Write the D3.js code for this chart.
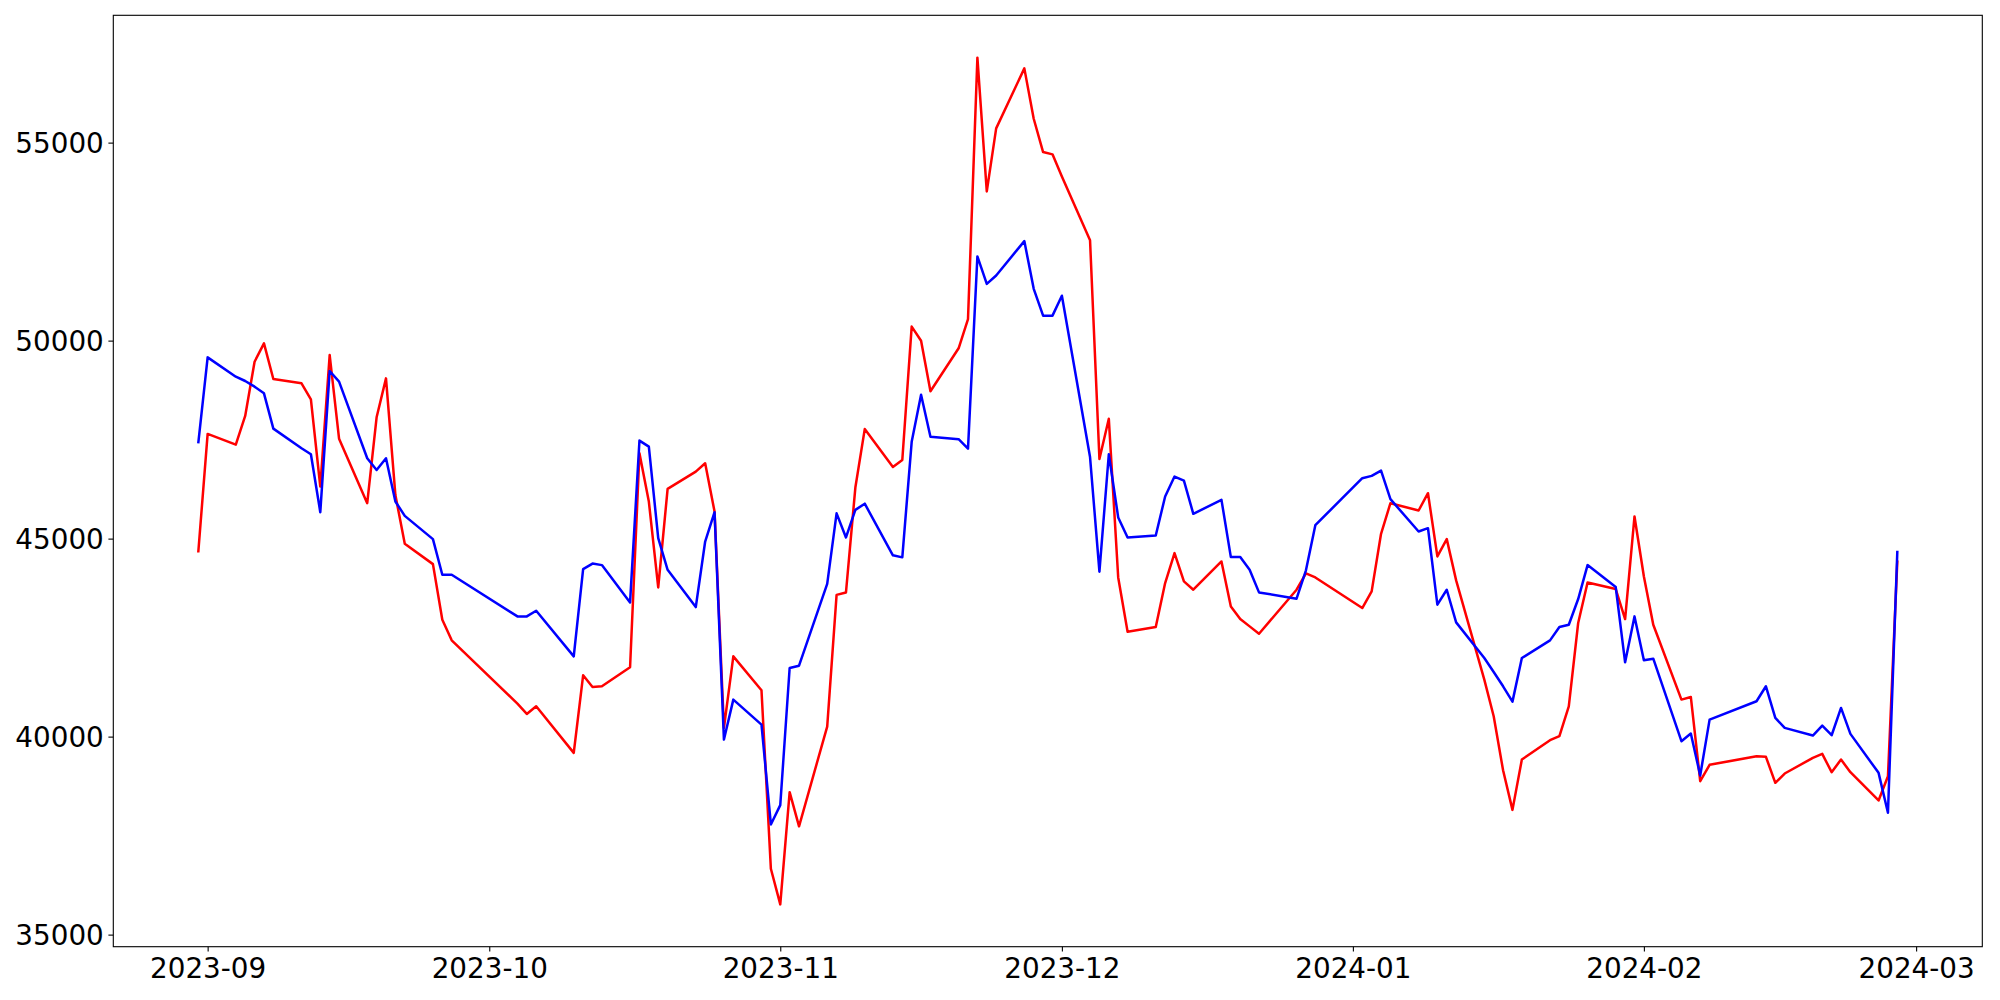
<!DOCTYPE html>
<html>
<head>
<meta charset="utf-8">
<script src="https://cdn.jsdelivr.net/npm/d3@7"></script>
<style>
  html, body { margin: 0; padding: 0; background: #fff; }
  svg { display: block; }
  text { font-family: "DejaVu Sans", sans-serif; fill: #000; }
</style>
</head>
<body>
<svg id="chart" width="2000" height="1000"></svg>
<script>
const dates = [
  "2023-08-31",
  "2023-09-01","2023-09-04","2023-09-05","2023-09-06","2023-09-07","2023-09-08",
  "2023-09-11","2023-09-12","2023-09-13","2023-09-14","2023-09-15",
  "2023-09-18","2023-09-19","2023-09-20","2023-09-21","2023-09-22",
  "2023-09-25","2023-09-26","2023-09-27",
  "2023-10-04","2023-10-05","2023-10-06","2023-10-10","2023-10-11","2023-10-12","2023-10-13",
  "2023-10-16","2023-10-17","2023-10-18","2023-10-19","2023-10-20",
  "2023-10-23","2023-10-24","2023-10-25","2023-10-26","2023-10-27",
  "2023-10-30","2023-10-31",
  "2023-11-01","2023-11-02","2023-11-03","2023-11-06","2023-11-07","2023-11-08","2023-11-09","2023-11-10",
  "2023-11-13","2023-11-14","2023-11-15","2023-11-16","2023-11-17",
  "2023-11-20","2023-11-21","2023-11-22","2023-11-23","2023-11-24",
  "2023-11-27","2023-11-28","2023-11-29","2023-11-30",
  "2023-12-01","2023-12-04","2023-12-05","2023-12-06","2023-12-07","2023-12-08",
  "2023-12-11","2023-12-12","2023-12-13","2023-12-14","2023-12-15",
  "2023-12-18","2023-12-19","2023-12-20","2023-12-21","2023-12-22",
  "2023-12-26","2023-12-27","2023-12-28",
  "2024-01-02","2024-01-03","2024-01-04","2024-01-05",
  "2024-01-08","2024-01-09","2024-01-10","2024-01-11","2024-01-12",
  "2024-01-15","2024-01-16","2024-01-17","2024-01-18","2024-01-19",
  "2024-01-22","2024-01-23","2024-01-24","2024-01-25","2024-01-26",
  "2024-01-29","2024-01-30","2024-01-31",
  "2024-02-01","2024-02-02","2024-02-05","2024-02-06","2024-02-07","2024-02-08",
  "2024-02-13","2024-02-14","2024-02-15","2024-02-16",
  "2024-02-19","2024-02-20","2024-02-21","2024-02-22","2024-02-23",
  "2024-02-26","2024-02-27","2024-02-28"
];

const redValues = [
  44650,
  47643,47374,48097,49467,49930,49030,
  48921,48517,46315,49635,47525,
  45894,48063,49047,46100,44869,
  44356,42952,42431,
  40833,40573,40766,39589,41548,41254,41270,
  41750,47155,45936,43767,46256,
  46693,46903,45684,40220,42027,
  41170,36663,
  35764,38597,37735,40254,43580,43641,46290,47766,
  46811,46985,50354,49998,48721,
  49807,50545,57146,53768,55360,
  56875,55602,54762,54704,
  54144,52533,47012,48025,44020,42650,
  42767,43877,44634,43919,43709,
  44423,43288,42969,42784,42599,
  43709,44120,44020,
  43247,43667,45121,45895,
  45710,46147,44550,44987,43945,
  41439,40514,39150,38150,39421,
  39909,40010,40766,42869,43894,
  43726,42969,45559,
  44045,42826,40935,41002,38875,39287,
  39505,39489,38833,39068,
  39463,39564,39102,39421,39102,
  38387,39001,44450
];

const blueValues = [
  47408,
  49577,49089,48980,48837,48669,47778,
  47282,47130,45667,49232,48963,
  47029,46735,47029,45937,45575,
  44987,44087,44087,
  43036,43036,43179,42027,44230,44370,44331,
  43389,47475,47323,45012,44213,
  43271,44927,45667,39925,40934,
  40304,37782,
  38270,41733,41791,43858,45638,45030,45725,45882,
  44579,44527,47445,48635,47575,
  47510,47272,52127,51432,51645,
  52513,51307,50631,50631,
  51133,47060,44165,47130,45535,45030,
  45079,46063,46567,46466,45626,
  45979,44533,44533,44213,43642,
  43482,44200,45340,
  46525,46584,46719,45996,
  45180,45264,43331,43709,42885,
  41986,41633,41271,40884,41985,
  42431,42767,42826,43474,44331,
  43776,41876,43036,
  41927,41969,39884,40077,39020,40430,
  40893,41271,40472,40220,
  40027,40279,40035,40724,40069,
  39085,38076,44692
];

const yTickValues = [35000, 40000, 45000, 50000, 55000];
const xTickLabels = ["2023-09","2023-10","2023-11","2023-12","2024-01","2024-02","2024-03"];

const seriesList = [
  { name: "red", color: "#ff0000", values: redValues },
  { name: "blue", color: "#0000ff", values: blueValues }
];

const parse = d3.utcParse("%Y-%m-%d");
const parseMonth = d3.utcParse("%Y-%m");
const dateObjs = dates.map(parse);

const plot = { left: 113.3, right: 1982.3, top: 15.3, bottom: 946.7 };
const svg = d3.select("#chart");
svg.append("rect").attr("width", 2000).attr("height", 1000).attr("fill", "#fff");

const xExt = d3.extent(dateObjs);
const xSpan = xExt[1] - xExt[0];
const x = d3.scaleUtc()
  .domain([new Date(+xExt[0] - 0.05 * xSpan), new Date(+xExt[1] + 0.05 * xSpan)])
  .range([plot.left, plot.right]);

const allVals = redValues.concat(blueValues);
const yExt = d3.extent(allVals);
const ySpan = yExt[1] - yExt[0];
const y = d3.scaleLinear()
  .domain([yExt[0] - 0.05 * ySpan, yExt[1] + 0.05 * ySpan])
  .range([plot.bottom, plot.top]);

const line = d3.line()
  .x((d, i) => x(dateObjs[i]))
  .y(d => y(d));

const g = svg.append("g");
seriesList.forEach(s => {
  g.append("path")
    .datum(s.values)
    .attr("fill", "none")
    .attr("stroke", s.color)
    .attr("stroke-width", 2.5)
    .attr("stroke-linejoin", "round")
    .attr("stroke-linecap", "butt")
    .attr("d", line);
});

const fontSize = 27.8;
const xAxis = d3.axisBottom(x)
  .tickValues(xTickLabels.map(parseMonth))
  .tickFormat(d3.utcFormat("%Y-%m"))
  .tickSize(4.9)
  .tickPadding(6);
const gx = svg.append("g").attr("transform", `translate(0,${plot.bottom})`).call(xAxis);
gx.select(".domain").remove();
gx.selectAll(".tick line").attr("stroke", "#000").attr("stroke-width", 1.1);
gx.selectAll(".tick text")
  .attr("font-size", fontSize)
  .attr("font-family", "DejaVu Sans")
  .attr("fill", "#000")
  .attr("dy", null)
  .attr("y", 31.6);

const yAxis = d3.axisLeft(y)
  .tickValues(yTickValues)
  .tickFormat(d3.format("d"))
  .tickSize(4.9)
  .tickPadding(6);
const gy = svg.append("g").attr("transform", `translate(${plot.left},0)`).call(yAxis);
gy.select(".domain").remove();
gy.selectAll(".tick line").attr("stroke", "#000").attr("stroke-width", 1.1);
gy.selectAll(".tick text")
  .attr("font-size", fontSize)
  .attr("font-family", "DejaVu Sans")
  .attr("fill", "#000")
  .attr("dy", null)
  .attr("y", 10.2)
  .attr("x", -9.5);

svg.append("rect")
  .attr("x", plot.left).attr("y", plot.top)
  .attr("width", plot.right - plot.left).attr("height", plot.bottom - plot.top)
  .attr("fill", "none").attr("stroke", "#000").attr("stroke-width", 1.1);
</script>
</body>
</html>
